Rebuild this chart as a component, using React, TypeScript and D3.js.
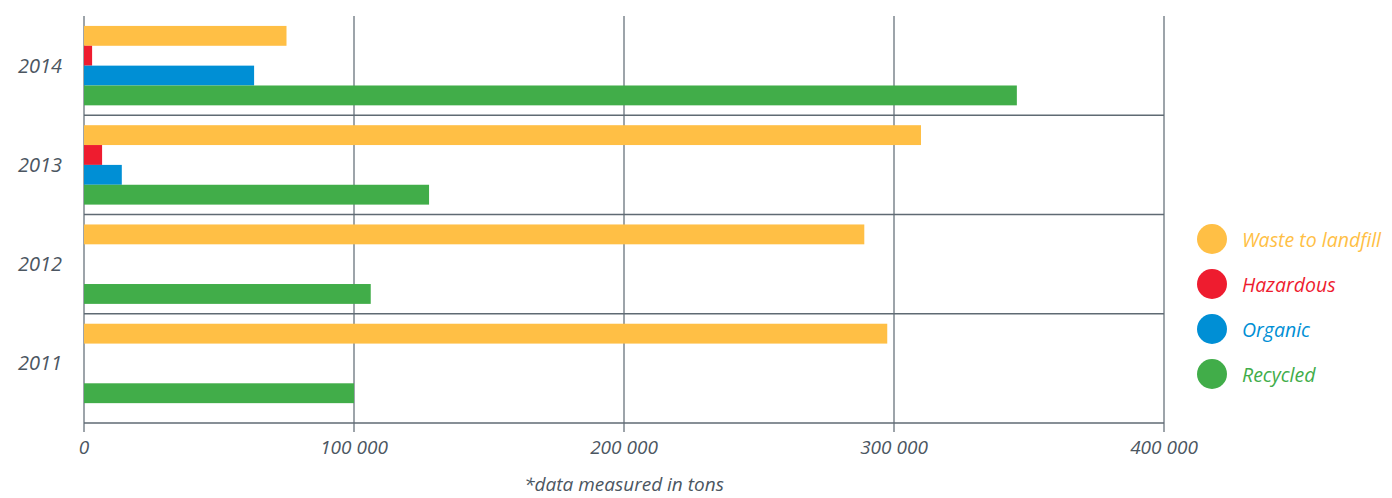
import React from "react";
import * as d3 from "d3";

const years = ["2014", "2013", "2012", "2011"];
const seriesNames = ["Waste to landfill", "Hazardous", "Organic", "Recycled"];
const seriesColors = ["#FFBF45", "#EE1C2F", "#008FD5", "#41AD49"];
const wasteToLandfill = [75000, 310000, 289000, 297500];
const hazardous: (number | null)[] = [3000, 6700, null, null];
const organic: (number | null)[] = [63000, 14000, null, null];
const recycled = [345500, 127800, 106200, 100000];
const xTicks = [0, 100000, 200000, 300000, 400000];
const footnote = "*data measured in tons";

const W = 1392;
const H = 498;

export default function App() {
  const x = d3.scaleLinear().domain([0, 400000]).range([84, 1164]);
  const y = d3
    .scaleBand<string>()
    .domain(years)
    .range([16, 423])
    .paddingInner(0)
    .paddingOuter(0.05)
    .align(0);
  const sub = d3
    .scaleBand<string>()
    .domain(seriesNames)
    .range([0, y.bandwidth()])
    .paddingInner(0)
    .paddingOuter(0.5);

  const values: (number | null)[][] = [wasteToLandfill, hazardous, organic, recycled];
  const fmt = (v: number) => d3.format(",")(v).replace(/,/g, " ");
  const textColor = "#4B5661";
  const font = "'Open Sans', 'Noto Sans', sans-serif";

  const separators = years.slice(1).map((yr) => y(yr)!);
  const bottom = 423;

  return (
    <svg
      width={W}
      height={H}
      style={{ position: "absolute", left: 0, top: 0, background: "#fff" }}
      fontFamily={font}
    >
      {/* vertical gridlines */}
      {xTicks.map((t) => (
        <line
          key={"v" + t}
          x1={x(t)}
          x2={x(t)}
          y1={16}
          y2={432}
          stroke="#7C868E"
          strokeWidth={1.5}
        />
      ))}
      {/* horizontal separators */}
      {[...separators, bottom].map((yy, i) => (
        <line
          key={"h" + i}
          x1={x(0)}
          x2={x(400000)}
          y1={yy}
          y2={yy}
          stroke="#5F6A73"
          strokeWidth={1.5}
        />
      ))}
      {/* bars */}
      {years.map((yr, yi) =>
        seriesNames.map((s, si) => {
          const v = values[si][yi];
          if (v == null) return null;
          return (
            <rect
              key={yr + s}
              x={x(0)}
              y={y(yr)! + sub(s)!}
              width={x(v) - x(0)}
              height={sub.bandwidth()}
              fill={seriesColors[si]}
            />
          );
        })
      )}
      {/* year labels */}
      {years.map((yr) => (
        <text
          key={"yl" + yr}
          x={62}
          y={y(yr)! + y.bandwidth() / 2}
          dy="0.35em"
          textAnchor="end"
          fontStyle="italic"
          fontSize={20}
          fill={textColor}
        >
          {yr}
        </text>
      ))}
      {/* x tick labels */}
      {xTicks.map((t) => (
        <text
          key={"xl" + t}
          x={x(t)}
          y={454}
          textAnchor="middle"
          fontStyle="italic"
          fontSize={19}
          fill={textColor}
        >
          {fmt(t)}
        </text>
      ))}
      <text
        x={x(200000)}
        y={491}
        textAnchor="middle"
        fontStyle="italic"
        fontSize={19}
        fill={textColor}
      >
        {footnote}
      </text>
      {/* legend */}
      {seriesNames.map((s, i) => {
        const cy = 239 + i * 45;
        return (
          <g key={"lg" + s}>
            <circle cx={1212} cy={cy} r={15} fill={seriesColors[i]} />
            <text
              x={1242}
              y={cy + 1}
              dy="0.35em"
              fontStyle="italic"
              fontSize={19.5}
              fill={seriesColors[i]}
            >
              {s}
            </text>
          </g>
        );
      })}
    </svg>
  );
}
